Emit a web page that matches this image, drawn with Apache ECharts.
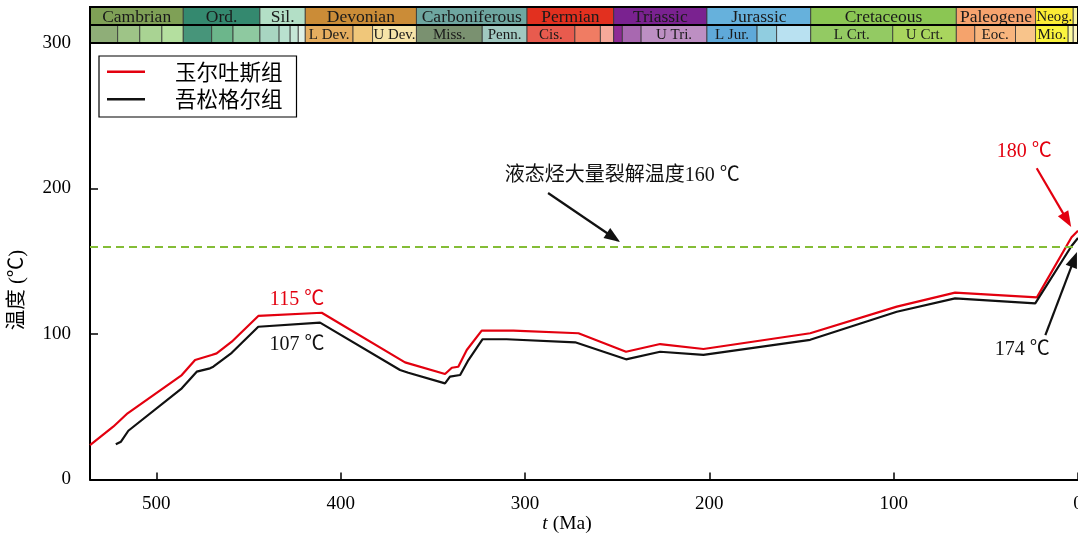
<!DOCTYPE html>
<html><head><meta charset="utf-8">
<script src="https://cdn.jsdelivr.net/npm/echarts@6/dist/echarts.min.js"></script>
<style>html,body{margin:0;padding:0;background:#fff}#c{width:1078px;height:540px}</style>
</head><body><div id="c"></div>
<script>
// ---------------- data ----------------
const SERIES_NAMES = ['玉尔吐斯组', '吾松格尔组'];
const RED_AGE  = [536, 523.4, 515.6, 486.2, 479, 470, 467.3, 459.1, 444.7, 410.3, 365.1, 343.4, 339.7, 336.2, 331.6, 323.5, 306.3, 271, 245.2, 226.7, 203.2, 145.3, 98.3, 66.7, 22.3, 3.5, 0];
const RED_TEMP = [23.7, 36.3, 45.5, 71.8, 82.1, 85.6, 86.7, 94.7, 112.4, 114.6, 80.5, 72.5, 76.8, 77.5, 89, 102.3, 102.3, 100.5, 87.8, 93.1, 89.7, 100.5, 118.8, 128.4, 125.2, 166.5, 171];
const BLACK_AGE  = [522, 519.2, 515.2, 486.2, 478.1, 470.9, 469.1, 459.1, 444.7, 411.2, 367.8, 363.3, 343.4, 340.7, 335.2, 330.7, 323, 310, 272.8, 245.2, 226.7, 203.2, 145.3, 98.3, 66.7, 23.2, 3.5, 0];
const BLACK_TEMP = [24.2, 26, 33.5, 62.7, 74.1, 76.4, 77.5, 87.1, 105, 107.8, 75.3, 73.4, 66.1, 70.7, 71.8, 82.1, 96.4, 96.4, 94.3, 82.6, 87.8, 85.6, 96, 115.3, 124.5, 121.1, 160.5, 166];
const X_TICKS = [0, 100, 200, 300, 400, 500];
const Y_TICKS = [0, 100, 200, 300];
const CRACK_TEMP = 160;

// geologic time scale (Ma)
const PERIOD_NAMES = ['Cambrian', 'Ord.', 'Sil.', 'Devonian', 'Carboniferous', 'Permian', 'Triassic', 'Jurassic', 'Cretaceous', 'Paleogene', 'Neog.', ''];
const PERIOD_START = [541, 485.4, 443.8, 419.2, 358.9, 298.9, 251.9, 201.3, 145, 66, 23.03, 2.58];
const EPOCH_NAMES = ['', '', '', '',  '', '', '',  '', '', '', '',  'L Dev.', '', 'U Dev.',  'Miss.', 'Penn.',  'Cis.', '', '',  '', '', 'U Tri.',  'L Jur.', '', '',  'L Crt.', 'U Crt.',  '', 'Eoc.', '',  'Mio.', '',  '', ''];
const EPOCH_START = [541, 521, 509, 497,  485.4, 470, 458.4,  443.8, 433.4, 427.4, 423,  419.2, 393.3, 382.7,  358.9, 323.2,  298.9, 272.95, 259.1,  251.9, 247.2, 237,  201.3, 174.1, 163.5,  145, 100.5,  66, 56, 33.9,  23.03, 5.333,  2.58, 0.0117];

// annotations
const NOTE_TEXT = ['液态烃大量裂解温度160 ℃', '180 ℃', '174 ℃', '115 ℃', '107 ℃'];
const NOTE_AGE  = [247.3, 29.2, 30.3, 423.7, 423.7];
const NOTE_TEMP = [208.6, 225.1, 89.0, 123.4, 92.4];
const ARROW_FROM_AGE  = [287.5, 22.4, 17.7];
const ARROW_FROM_TEMP = [196.9, 213.9, 99.3];
const ARROW_TO_AGE    = [252, 5.9, 2.1];
const ARROW_TO_TEMP   = [166.3, 178.3, 151.3];

// ---------------- styles ----------------
const RED = '#e3000f', BLACK = '#111';
const NOTE_COLORS = [BLACK, RED, BLACK, RED, BLACK];
const ARROW_COLORS = [BLACK, RED, BLACK];
const PERIOD_COLORS = ['#7fa056', '#34896f', '#b3dfc6', '#cb8c37', '#6ea6a0', '#e2301f', '#7a2290', '#66b1dc', '#8bc653', '#f7a36e', '#fcec35', '#f9f6a0'];
const EPOCH_COLORS = ['#8fae78', '#9ec487', '#a9d393', '#b4df9f',
  '#47957a', '#6cb68b', '#8ec9a0',
  '#a8d5c1', '#b9e1cf', '#c5e6d6', '#e0f1e6',
  '#e5ad5f', '#f0c77a', '#f6e4a8',
  '#7a9170', '#a0c8c0',
  '#e85b4e', '#f07c63', '#f6a99a',
  '#8e2b95', '#a868b0', '#bd8fc3',
  '#5fa9d9', '#90cde0', '#b9e1f1',
  '#93ca63', '#a9d55e',
  '#f5a36c', '#f8b57d', '#f8c48b',
  '#fbf43e', '#fdfb9e',
  '#fdf5c0', '#fdf2e3'];
const SERIF = "'Liberation Serif', 'Noto Sans CJK SC'";
const X_MAX = 536;
const SCALE_BASE = 300, ROW_H = 12.4;

// ---------------- build ----------------
const PERIOD_END = PERIOD_START.slice(1).concat([0]);
const EPOCH_END = EPOCH_START.slice(1).concat([0]);
const scaleData = [];
PERIOD_NAMES.forEach((n, i) => scaleData.push([PERIOD_START[i], PERIOD_END[i], 1, i]));
EPOCH_NAMES.forEach((n, i) => scaleData.push([EPOCH_START[i], EPOCH_END[i], 0, i]));

const mctx = document.createElement('canvas').getContext('2d');
function fitSize(text, base, boxW) {
  mctx.font = base + "px 'Liberation Serif'";
  const w = mctx.measureText(text).width;
  return w > boxW - 2 ? Math.max(8, base * (boxW - 2) / w) : base;
}

function renderScale(params, api) {
  const s = Math.min(api.value(0), X_MAX), e = api.value(1), row = api.value(2), idx = api.value(3);
  const yb = SCALE_BASE + row * ROW_H;
  const p0 = api.coord([s, yb + ROW_H]), p1 = api.coord([e, yb]);
  const name = row ? PERIOD_NAMES[idx] : EPOCH_NAMES[idx];
  const color = row ? PERIOD_COLORS[idx] : EPOCH_COLORS[idx];
  const w = p1[0] - p0[0];
  const children = [{
    type: 'rect',
    shape: { x: p0[0], y: p0[1], width: w, height: p1[1] - p0[1] },
    style: { fill: color, stroke: '#333', lineWidth: 0.8 }
  }];
  if (name) {
    const fs = fitSize(name, row ? 17.5 : 15, w);
    children.push({
      type: 'text',
      style: { text: name, x: p0[0] + w / 2, y: (p0[1] + p1[1]) / 2 + 1, align: 'center', verticalAlign: 'middle',
        fontSize: fs, fontFamily: "'Liberation Serif'", fill: '#1a1a1a' }
    });
  }
  return { type: 'group', children };
}

function renderFrame(params, api) {
  const a = api.coord([X_MAX, SCALE_BASE + 2 * ROW_H]), b = api.coord([0, SCALE_BASE]);
  const m = api.coord([0, SCALE_BASE + ROW_H]);
  return { type: 'group', children: [
    { type: 'rect', shape: { x: a[0], y: a[1], width: b[0] - a[0], height: b[1] - a[1] }, style: { fill: 'none', stroke: '#000', lineWidth: 2 } },
    { type: 'line', shape: { x1: a[0], y1: m[1], x2: b[0], y2: m[1] }, style: { stroke: '#000', lineWidth: 2 } }
  ]};
}

function renderNote(params, api) {
  const idx = api.value(2);
  const p = api.coord([api.value(0), api.value(1)]);
  return { type: 'text', style: { text: NOTE_TEXT[idx], x: p[0], y: p[1], align: 'center', verticalAlign: 'middle',
    fontSize: 20, fontFamily: SERIF, fill: NOTE_COLORS[idx] } };
}

const arrowData = ARROW_FROM_AGE.map((a, i) => [
  { coord: [a, ARROW_FROM_TEMP[i]], lineStyle: { color: ARROW_COLORS[i], width: 2.2, type: 'solid' } },
  { coord: [ARROW_TO_AGE[i], ARROW_TO_TEMP[i]] }
]);

const option = {
  animation: false,
  backgroundColor: '#fff',
  grid: { left: 90, right: 0, top: 43, bottom: 60.5, containLabel: false, outerBoundsMode: 'none' },
  legend: {
    data: SERIES_NAMES, orient: 'vertical', left: 99, top: 56,
    icon: 'rect', itemWidth: 38, itemHeight: 2.5, itemGap: 6,
    padding: [5, 14, 7, 8], borderColor: '#000', borderWidth: 1.2, backgroundColor: '#fff',
    textStyle: { fontSize: 21.5, fontFamily: "'Noto Sans CJK SC'", color: '#000', padding: [0, 0, 0, 25] }
  },
  xAxis: {
    type: 'value', inverse: true, min: 0, max: X_MAX, interval: 100,
    axisLine: { onZero: false, lineStyle: { color: '#000', width: 2 } },
    axisTick: { inside: true, length: 7, lineStyle: { color: '#000', width: 1.5 } },
    axisLabel: { margin: 15, fontSize: 19, fontFamily: "'Liberation Serif'", color: '#000',
      formatter: v => X_TICKS.indexOf(v) >= 0 ? String(v) : '' },
    splitLine: { show: false }
  },
  yAxis: {
    type: 'value', min: 0, max: 300, interval: 100, position: 'left',
    axisLine: { show: true, onZero: false, lineStyle: { color: '#000', width: 2 } },
    axisTick: { show: true, inside: true, length: 8, lineStyle: { color: '#000', width: 1.5 } },
    axisLabel: { margin: 19, fontSize: 19, fontFamily: "'Liberation Serif'", color: '#000',
      formatter: v => Y_TICKS.indexOf(v) >= 0 ? String(v) : '' },
    splitLine: { show: false }
  },
  graphic: [
    { type: 'text', x: 18, y: 290, rotation: Math.PI / 2,
      style: { text: '温度 (℃)', align: 'center', verticalAlign: 'middle', fontSize: 20.5, fontFamily: SERIF, fill: '#000' } },
    { type: 'text', x: 567, y: 524,
      style: { text: '{i|t} (Ma)', align: 'center', verticalAlign: 'middle', fontSize: 19.5, fontFamily: "'Liberation Serif'", fill: '#000',
        rich: { i: { fontStyle: 'italic', fontSize: 19.5, fontFamily: "'Liberation Serif'" } } } }
  ],
  series: [
    {
      name: SERIES_NAMES[0], type: 'line', showSymbol: false, symbol: 'none', color: RED, z: 3,
      lineStyle: { color: RED, width: 2.2 },
      data: RED_AGE.map((a, i) => [a, RED_TEMP[i]]),
      markLine: {
        silent: true, symbol: 'none', label: { show: false }, animation: false,
        lineStyle: { color: '#84bd36', width: 2, type: [8, 5] },
        data: [[{ coord: [X_MAX, CRACK_TEMP] }, { coord: [0, CRACK_TEMP] }]]
      }
    },
    {
      name: SERIES_NAMES[1], type: 'line', showSymbol: false, symbol: 'none', color: BLACK, z: 3,
      lineStyle: { color: BLACK, width: 2.2 },
      data: BLACK_AGE.map((a, i) => [a, BLACK_TEMP[i]]),
      markLine: {
        silent: true, symbol: ['none', 'triangle'], symbolSize: [12, 16], label: { show: false }, animation: false,
        data: arrowData
      }
    },
    { type: 'custom', name: 'scale', renderItem: renderScale, data: scaleData, clip: false, silent: true, z: 5 },
    { type: 'custom', name: 'frame', renderItem: renderFrame, data: [[X_MAX, SCALE_BASE]], clip: false, silent: true, z: 6 },
    { type: 'custom', name: 'notes', renderItem: renderNote, data: NOTE_TEXT.map((t, i) => [NOTE_AGE[i], NOTE_TEMP[i], i]), clip: false, silent: true, z: 7 }
  ]
};
const chart = echarts.init(document.getElementById('c'));
chart.setOption(option);
</script>
</body></html>
